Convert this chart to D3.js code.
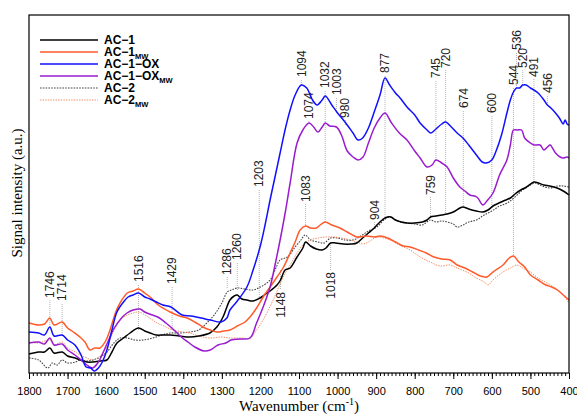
<!DOCTYPE html>
<html>
<head>
<meta charset="utf-8">
<script src="https://cdn.jsdelivr.net/npm/d3@7"></script>
<style>
  body { margin: 0; background: #fff; }
  svg { display: block; }
</style>
</head>
<body>
<div id="chart"></div>
<script>
// spectra as [wavenumber, signal (a.u.)]
var ac1 = [[1800,19],[1775,21],[1760,21],[1746,25],[1735,20],[1714,21],[1700,17],[1680,15],[1668,13],[1650,11],
  [1634,11],[1615,12],[1598,13],[1585,21],[1572,30],[1555,35],[1538,40],[1516,45],[1500,42],[1486,40],[1470,38],
  [1453,38],[1434,38],[1410,37],[1383,36],[1360,37],[1331,40],[1313,46],[1297,56],[1279,73],[1268,77],[1260,78],
  [1248,74],[1235,73],[1220,72],[1201,75],[1190,78],[1175,82],[1157,88],[1148,93],[1136,103],[1123,105],[1105,116],
  [1090,125],[1083,131],[1070,127],[1055,124],[1040,123],[1030,125],[1018,130],[1005,130],[985,129],[965,129],
  [950,130],[935,135],[920,140],[905,145],[890,151],[877,155],[862,156],[850,153],[835,151],[820,150],[800,150],
  [780,151],[768,153],[759,156],[745,157],[730,158],[716,159],[700,161],[683,165],[675,166],[660,164],[640,162],
  [623,161],[610,163],[597,167],[587,169],[570,172],[552,175],[540,179],[525,183],[510,186],[491,191],[480,190],
  [465,188],[450,187],[431,185],[415,182],[400,178]];

var ac1mw = [[1800,50],[1775,48],[1760,49],[1746,55],[1735,48],[1714,51],[1700,45],[1685,41],[1668,36],[1655,31],
  [1642,23],[1630,25],[1616,25],[1600,33],[1590,43],[1575,61],[1564,70],[1545,80],[1530,82],[1516,84],[1500,80],
  [1486,76],[1465,68],[1434,61],[1410,57],[1390,55],[1370,51],[1349,46],[1330,43],[1313,41],[1295,42],[1279,43],
  [1260,47],[1240,51],[1227,56],[1210,65],[1193,76],[1175,86],[1157,96],[1140,106],[1123,120],[1110,131],[1097,143],
  [1083,147],[1070,145],[1055,145],[1045,148],[1032,151],[1015,148],[994,145],[975,141],[950,136],[925,137],
  [904,136],[890,137],[870,135],[850,131],[830,127],[812,126],[790,123],[770,120],[750,116],[730,114],[708,113],
  [690,108],[670,105],[650,101],[630,97],[613,96],[600,100],[590,103],[571,108],[555,115],[544,117],[530,111],
  [515,106],[500,98],[480,93],[460,88],[445,86],[430,83],[415,78],[400,73]];

var ac1ox = [[1800,41],[1775,40],[1760,38],[1746,46],[1735,37],[1714,38],[1700,33],[1681,28],[1665,18],[1652,6],
  [1640,5],[1631,2],[1620,5],[1610,11],[1598,23],[1585,43],[1572,61],[1555,71],[1543,76],[1530,78],[1516,80],
  [1500,76],[1486,74],[1470,71],[1453,68],[1432,66],[1403,58],[1380,57],[1354,55],[1330,53],[1302,51],[1287,55],
  [1279,63],[1260,72],[1235,86],[1219,103],[1201,126],[1188,148],[1175,173],[1160,200],[1149,220],[1135,245],
  [1123,263],[1110,278],[1094,288],[1080,285],[1065,273],[1053,268],[1040,273],[1032,277],[1015,268],[1000,260],
  [985,253],[975,248],[960,240],[947,233],[935,235],[920,245],[905,261],[890,278],[877,295],[865,288],[850,280],
  [838,275],[820,266],[800,258],[786,250],[768,243],[758,240],[745,244],[730,249],[720,251],[705,246],[690,240],
  [675,235],[660,228],[640,218],[625,211],[615,210],[600,213],[590,221],[575,238],[561,260],[552,273],[544,281],
  [536,285],[528,285],[520,288],[511,288],[500,285],[491,283],[480,280],[465,273],[456,268],[447,265],[435,260],
  [425,255],[415,249],[410,253],[405,249],[400,248]];

var ac1oxmw = [[1800,30],[1775,31],[1760,29],[1746,35],[1735,28],[1714,29],[1700,23],[1681,18],[1665,13],[1650,8],
  [1635,5],[1620,11],[1605,23],[1590,36],[1582,43],[1560,55],[1546,60],[1530,63],[1512,64],[1500,61],[1480,58],
  [1466,56],[1445,50],[1424,43],[1405,36],[1388,31],[1370,26],[1346,22],[1330,23],[1310,28],[1290,30],[1276,33],
  [1253,34],[1227,35],[1210,50],[1193,66],[1175,86],[1160,112],[1149,133],[1135,162],[1123,190],[1105,230],
  [1090,243],[1074,250],[1062,246],[1051,241],[1040,246],[1032,250],[1020,247],[1003,246],[990,238],[975,222],
  [960,216],[947,213],[934,216],[920,230],[905,245],[890,255],[877,260],[860,250],[840,240],[820,233],[800,222],
  [786,215],[768,206],[755,208],[745,213],[730,210],[716,206],[700,195],[683,186],[670,182],[657,178],[639,176],
  [623,168],[613,172],[597,180],[580,198],[561,213],[552,228],[544,243],[535,243],[523,243],[515,235],[500,230],
  [491,228],[475,228],[465,223],[456,226],[449,228],[435,220],[423,216],[415,215],[405,216],[400,215]];

var ac2 = [[1800,15],[1775,13],[1751,5],[1740,10],[1727,8],[1714,13],[1700,10],[1680,11],[1668,13],[1650,12],
  [1634,13],[1615,16],[1598,21],[1580,30],[1564,35],[1545,35],[1525,33],[1504,33],[1479,35],[1455,38],[1434,40],
  [1410,40],[1383,41],[1360,43],[1339,50],[1320,58],[1300,70],[1286,81],[1275,83],[1260,85],[1240,84],[1219,83],
  [1200,86],[1175,93],[1160,105],[1149,113],[1130,116],[1110,126],[1095,133],[1084,138],[1070,133],[1050,131],
  [1035,130],[1018,135],[1000,135],[980,133],[960,133],[940,137],[920,142],[898,146],[880,153],[864,156],[845,152],
  [820,150],[800,149],[780,148],[760,153],[745,151],[730,152],[716,151],[700,149],[690,146],[675,148],[660,151],
  [640,153],[620,158],[600,162],[580,167],[560,170],[540,176],[520,183],[500,188],[488,190],[470,187],[449,185],
  [430,187],[415,187],[400,186]];

var ac2mw = [[1800,31],[1775,30],[1746,33],[1735,28],[1714,31],[1700,25],[1680,21],[1668,18],[1650,15],[1634,13],
  [1616,17],[1598,26],[1585,38],[1564,53],[1545,58],[1530,60],[1516,61],[1495,57],[1468,50],[1450,47],[1427,43],
  [1400,41],[1383,40],[1360,37],[1331,35],[1300,36],[1279,35],[1250,35],[1227,35],[1210,43],[1193,53],[1167,73],
  [1141,96],[1123,108],[1105,120],[1090,128],[1071,133],[1050,135],[1030,136],[1010,136],[990,135],[968,133],
  [950,131],[934,129],[920,131],[898,136],[880,135],[864,133],[840,128],[812,123],[786,116],[760,111],[735,107],
  [708,108],[690,105],[660,100],[640,95],[620,91],[610,88],[597,93],[571,101],[552,105],[535,108],[520,105],
  [501,101],[480,95],[457,90],[440,86],[420,80],[400,70]];

var seriesNames = ["AC\u22121", "AC\u22121", "AC\u22121\u2212OX", "AC\u22121\u2212OX", "AC\u22122", "AC\u22122"];
var seriesSubs = ["", "MW", "", "MW", "", "MW"];
var seriesData = [ac1, ac1mw, ac1ox, ac1oxmw, ac2, ac2mw];

// band assignments: wavenumber, signal where the marker meets the curve, signal at the label end
var bandWn = [1746, 1714, 1516, 1429, 1286, 1260, 1203, 1148, 1094, 1083, 1074, 1032, 1018, 1003, 980,
  904, 877, 759, 745, 720, 674, 600, 544, 536, 520, 491, 456];
var bandFrom = [48, 38, 43, 43, 85, 83, 76, 103, 288, 148, 249, 151, 128, 260, 248,
  144, 156, 155, 213, 160, 165, 168, 116, 285, 288, 191, 268];
var bandTo = [73, 70, 89, 87, 96, 111, 184, 83, 294, 169, 252, 283, 103, 276, 253,
  151, 298, 176, 293, 303, 263, 258, 286, 321, 303, 294, 278];

var xTicks = d3.range(1800, 399, -100);

function init() {
    var w = 577, h = 414;
    var padding = { top: 15, right: 8, bottom: 41, left: 29 };

    var colors = ["#000000", "#ff5a2a", "#1010ff", "#9a1ccf", "#444444", "#f58a62"];
    var dashes = [null, null, null, null, "1.6,1.2", "1.4,1.2"];
    var widths = [1.5, 1.5, 1.5, 1.5, 1.1, 1];

    var xScale = d3.scaleLinear().domain([1800, 400]).range([padding.left, w - padding.right]);
    var yScale = d3.scaleLinear().domain([0, 358]).range([h - padding.bottom, padding.top]);

    var line = d3.line()
        .x(d => xScale(d[0]))
        .y(d => yScale(d[1]))
        .curve(d3.curveCatmullRom.alpha(0.5));

    var svg = d3.select("#chart")
        .append("svg")
        .attr("width", w)
        .attr("height", h)
        .style("font-family", "Arial, 'Liberation Sans', sans-serif");

    // band markers (drawn under the spectra)
    bandWn.forEach(function(wn, i) {
        var x = xScale(wn);
        svg.append("line")
            .attr("x1", x).attr("x2", x)
            .attr("y1", yScale(bandFrom[i]))
            .attr("y2", yScale(bandTo[i]))
            .attr("stroke", "#a0a0a0")
            .attr("stroke-width", 0.8)
            .attr("stroke-dasharray", "1,1");

        var above = bandTo[i] > bandFrom[i];
        var y = yScale(bandTo[i]) + (above ? -2 : 2);
        svg.append("text")
            .attr("transform", "translate(" + x + "," + y + ") rotate(-90)")
            .attr("text-anchor", above ? "start" : "end")
            .attr("dy", "0.35em")
            .attr("font-size", 12)
            .attr("fill", "#222")
            .text(wn);
    });

    // spectra, dotted ones first
    [4, 5, 0, 1, 3, 2].forEach(function(i) {
        svg.append("path")
            .datum(seriesData[i])
            .attr("fill", "none")
            .attr("stroke", colors[i])
            .attr("stroke-width", widths[i])
            .attr("stroke-dasharray", dashes[i])
            .attr("d", line);
    });

    // x axis: major + minor ticks
    var axisY = h - padding.bottom;
    svg.append("g")
        .attr("transform", "translate(0," + axisY + ")")
        .call(d3.axisBottom(xScale).tickValues(d3.range(1800, 399, -10)).tickSize(3).tickFormat(""))
        .call(g => g.select(".domain").remove());

    var xAxis = svg.append("g")
        .attr("transform", "translate(0," + axisY + ")")
        .call(d3.axisBottom(xScale).tickValues(xTicks).tickSize(6).tickSizeOuter(0).tickPadding(8).tickFormat(d3.format("d")));
    xAxis.selectAll("text").attr("font-size", 11).attr("fill", "#000")
        .style("font-family", "Arial, 'Liberation Sans', sans-serif");
    xAxis.select(".domain").remove();

    // frame
    svg.append("rect")
        .attr("x", padding.left).attr("y", padding.top)
        .attr("width", w - padding.left - padding.right)
        .attr("height", h - padding.top - padding.bottom)
        .attr("fill", "none")
        .attr("stroke", "#000")
        .attr("stroke-width", 1.2);

    // legend
    seriesNames.forEach(function(name, i) {
        var ly = 40 + i * 12;
        svg.append("line")
            .attr("x1", 40).attr("x2", 98)
            .attr("y1", ly).attr("y2", ly)
            .attr("stroke", colors[i])
            .attr("stroke-width", widths[i])
            .attr("stroke-dasharray", dashes[i]);
        var t = svg.append("text")
            .attr("x", 104).attr("y", ly + 4)
            .attr("font-size", 12)
            .attr("font-weight", "bold")
            .text(name);
        if (seriesSubs[i]) {
            t.append("tspan")
                .attr("font-size", 7.5)
                .attr("dy", 2.5)
                .text(seriesSubs[i]);
        }
    });

    // axis titles
    var title = svg.append("text")
        .attr("x", (padding.left + w - padding.right) / 2)
        .attr("y", 411)
        .attr("text-anchor", "middle")
        .attr("font-size", 15)
        .style("font-family", "'Liberation Serif', 'Times New Roman', serif")
        .text("Wavenumber (cm");
    title.append("tspan").attr("font-size", 10).attr("dy", -6).text("-1");
    title.append("tspan").attr("dy", 6).text(")");

    svg.append("text")
        .attr("transform", "translate(22,193) rotate(-90)")
        .attr("text-anchor", "middle")
        .attr("font-size", 15)
        .style("font-family", "'Liberation Serif', 'Times New Roman', serif")
        .text("Signal intensity (a.u.)");
}

window.onload = init;
</script>
</body>
</html>
